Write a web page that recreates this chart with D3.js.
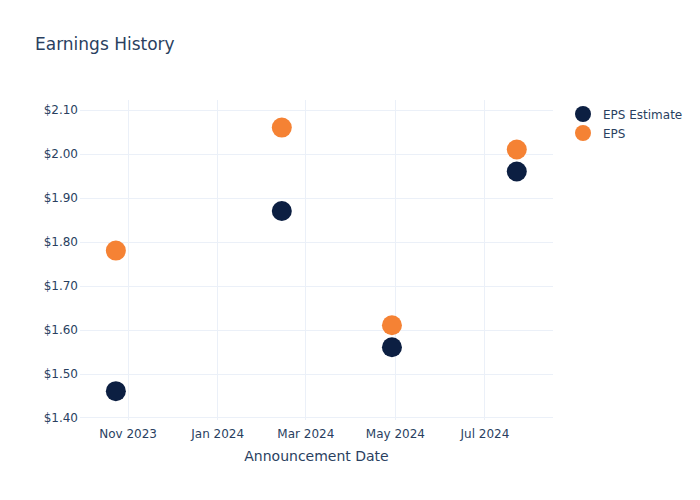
<!DOCTYPE html>
<html>
<head>
<meta charset="utf-8">
<script src="https://cdn.jsdelivr.net/npm/d3@7"></script>
<style>
  html, body { margin: 0; padding: 0; background: #fff; }
  svg { display: block; }
  text { font-family: "DejaVu Sans", Verdana, sans-serif; fill: #2a3f5f; }
</style>
</head>
<body>
<div id="chart"></div>
<script>
const dates = ["2023-10-24", "2024-02-14", "2024-04-29", "2024-07-23"];
const epsEstimate = [1.46, 1.87, 1.56, 1.96];
const eps = [1.78, 2.06, 1.61, 2.01];
const seriesNames = ["EPS Estimate", "EPS"];
const seriesColors = ["#0c1f42", "#f58234"];
const yTicks = [1.40, 1.50, 1.60, 1.70, 1.80, 1.90, 2.00, 2.10];
const xTicks = ["2023-11-01", "2024-01-01", "2024-03-01", "2024-05-01", "2024-07-01"];
const xTickLabels = ["Nov 2023", "Jan 2024", "Mar 2024", "May 2024", "Jul 2024"];

const W = 700, H = 500;
const m = { left: 80, right: 147, top: 100, bottom: 80 };
const pw = W - m.left - m.right, ph = H - m.top - m.bottom;
const parse = d3.utcParse("%Y-%m-%d");

const svg = d3.select("#chart").append("svg").attr("width", W).attr("height", H);

const x = d3.scaleUtc()
  .domain([new Date(Date.UTC(2023, 8, 29, 14)), new Date(Date.UTC(2024, 7, 16, 16))])
  .range([m.left, m.left + pw]);
const y = d3.scaleLinear().domain([1.3943, 2.1228]).range([m.top + ph, m.top]);

const g = svg.append("g");
// grid
g.selectAll(".hg").data(yTicks).enter().append("line")
  .attr("x1", m.left).attr("x2", m.left + pw)
  .attr("y1", d => Math.round(y(d)) + 0.5).attr("y2", d => Math.round(y(d)) + 0.5)
  .attr("stroke", "#ebf0f8").attr("stroke-width", 1);
g.selectAll(".vg").data(xTicks).enter().append("line")
  .attr("y1", m.top).attr("y2", m.top + ph)
  .attr("x1", d => Math.round(x(parse(d))) + 0.5).attr("x2", d => Math.round(x(parse(d))) + 0.5)
  .attr("stroke", "#ebf0f8").attr("stroke-width", 1);

// y axis labels
const yAxis = d3.axisLeft(y).tickValues(yTicks).tickSize(0).tickPadding(2)
  .tickFormat(d => "$" + d3.format(".2f")(d));
const ya = svg.append("g").attr("transform", `translate(${m.left},0)`).call(yAxis);
ya.select(".domain").remove();
ya.selectAll("text").attr("font-size", 12).attr("fill", "#2a3f5f")
  .attr("font-family", '"DejaVu Sans", Verdana, sans-serif');

// x axis labels
const xAxis = d3.axisBottom(x).tickValues(xTicks.map(parse)).tickSize(0).tickPadding(9)
  .tickFormat((d, i) => xTickLabels[i]);
const xa = svg.append("g").attr("transform", `translate(0,${m.top + ph})`).call(xAxis);
xa.select(".domain").remove();
xa.selectAll("text").attr("font-size", 12).attr("fill", "#2a3f5f")
  .attr("font-family", '"DejaVu Sans", Verdana, sans-serif');

// points
const series = [epsEstimate, eps];
series.forEach((vals, si) => {
  svg.append("g").selectAll("circle").data(vals).enter().append("circle")
    .attr("cx", (d, i) => x(parse(dates[i])))
    .attr("cy", d => y(d))
    .attr("r", 10)
    .attr("fill", seriesColors[si]);
});

// title
svg.append("text").attr("x", 35).attr("y", 50).attr("font-size", 17).text("Earnings History");
// x axis title
svg.append("text").attr("x", m.left + pw / 2).attr("y", 461).attr("text-anchor", "middle")
  .attr("font-size", 14).text("Announcement Date");

// legend
const lg = svg.append("g");
seriesNames.forEach((n, i) => {
  lg.append("circle").attr("cx", 583).attr("cy", 114 + i * 19).attr("r", 8).attr("fill", seriesColors[i]);
  lg.append("text").attr("x", 603).attr("y", 118.5 + i * 19).attr("font-size", 12).text(n);
});
</script>
</body>
</html>
